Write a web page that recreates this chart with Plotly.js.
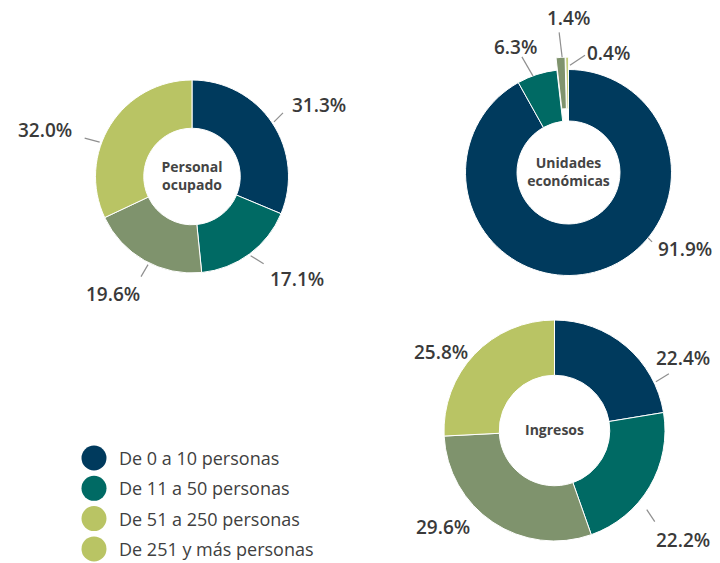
<!DOCTYPE html>
<html>
<head>
<meta charset="utf-8">
<script src="https://cdn.plot.ly/plotly-3.0.1.min.js"></script>
<style>
  html, body { margin: 0; padding: 0; background: #ffffff; }
  #chart { width: 720px; height: 563px; }
</style>
</head>
<body>
<div id="chart"></div>
<script>
// Data
const categories = ['De 0 a 10 personas', 'De 11 a 50 personas', 'De 51 a 250 personas', 'De 251 y más personas'];
const personalOcupado = [31.3, 17.1, 19.6, 32.0];
const unidadesEconomicas = [91.9, 6.3, 1.4, 0.4];
const ingresos = [22.4, 22.2, 29.6, 25.8];

const sliceColors = ['#003a5d', '#006a64', '#7f936d', '#b9c464'];
// the legend of the original shows the last two sizes with the same swatch
const legendColors = ['#003a5d', '#006a64', '#b9c464', '#b9c464'];

const W = 720, H = 563;
const FONT = '"Open Sans", "Noto Sans", sans-serif';

// layout of each donut: centre / radius in px, label placement tweaks
const donuts = [
    {
        values: personalOcupado, title: 'Personal<br>ocupado',
        cx: 192, cy: 176.5, r: 96.5, hole: 0.5, pull: [0, 0, 0, 0],
        nudge: [0, 0, -3, -12], startR: [0, 0, 0, 0],
        lineVec: [[9, -9], [13, 8], [-7, 12], [-15, -4]],
        textOff: [[36, -8], [33, 15], [-28, 17], [-40, -8]]
    },
    {
        values: unidadesEconomicas, title: 'Unidades<br>económicas',
        cx: 568.5, cy: 172.5, r: 103, hole: 0.5, pull: [0, 0, 0.12, 0.12],
        nudge: [-36, -2.4, 0.8, 1.5], startR: [-2, -2, -2, -10],
        lineVec: [[4, 4], [-11, -19], [-3, -25], [15, -10]],
        textOff: [[33, 7], [-6, -10], [9, -14], [24, -2]]
    },
    {
        values: ingresos, title: 'Ingresos',
        cx: 554.5, cy: 430.5, r: 110.5, hole: 0.5, pull: [0, 0, 0, 0],
        nudge: [24, 10, 0, 0], startR: [0, 9, 0, 0],
        lineVec: [[13, -8], [8, 12], null, null],
        textOff: [[14, -16], [28, 18], [-49, 3.5], [-31.5, -1]]
    }
];

const px = x => x / W;
const py = y => 1 - y / H;

const traces = [];
const shapes = [];
const annotations = [];

donuts.forEach(d => {
    const maxPull = Math.max(...d.pull);
    const rd = d.r * (1 + maxPull);
    traces.push({
        type: 'pie',
        values: d.values,
        labels: categories,
        sort: false,
        direction: 'clockwise',
        rotation: 0,
        hole: d.hole,
        pull: d.pull,
        textinfo: 'none',
        hoverinfo: 'label+value',
        showlegend: false,
        marker: { colors: sliceColors, line: { color: '#ffffff', width: 1 } },
        domain: { x: [px(d.cx - rd), px(d.cx + rd)], y: [py(d.cy + rd), py(d.cy - rd)] },
        title: {
            text: d.title,
            position: 'middle center',
            font: { family: FONT, size: 14, weight: 700, color: '#444444' }
        }
    });

    // percentage labels with short leader lines
    const total = d.values.reduce((a, b) => a + b, 0);
    let cum = 0;
    d.values.forEach((v, i) => {
        const mid = (cum + v / 2) / total * 360;
        cum += v;
        const ang = (mid + d.nudge[i]) * Math.PI / 180;
        const R = d.r * (1 + d.pull[i]) + 2 + d.startR[i];
        const sx = d.cx + R * Math.sin(ang);
        const sy = d.cy - R * Math.cos(ang);
        let ex = sx, ey = sy;
        if (d.lineVec[i]) {
            ex = sx + d.lineVec[i][0];
            ey = sy + d.lineVec[i][1];
            shapes.push({
                type: 'line', xref: 'paper', yref: 'paper',
                x0: px(sx), y0: py(sy), x1: px(ex), y1: py(ey),
                line: { color: '#8f8f8f', width: 1.2 }
            });
        }
        annotations.push({
            xref: 'paper', yref: 'paper',
            x: px(ex + d.textOff[i][0]), y: py(ey + d.textOff[i][1]),
            xanchor: 'center', yanchor: 'middle',
            text: v.toFixed(1) + '%',
            showarrow: false,
            font: { family: FONT, size: 19, weight: 600, color: '#3a3a3a' }
        });
    });
});

// legend drawn by hand (dots + labels)
categories.forEach((c, i) => {
    const cy = 458 + i * 30.3;
    shapes.push({
        type: 'circle', xref: 'paper', yref: 'paper',
        x0: px(94 - 12.5), x1: px(94 + 12.5), y0: py(cy + 12.5), y1: py(cy - 12.5),
        fillcolor: legendColors[i], line: { width: 0 }
    });
    annotations.push({
        xref: 'paper', yref: 'paper',
        x: px(117), y: py(cy), xanchor: 'left', yanchor: 'middle',
        text: c, showarrow: false,
        font: { family: FONT, size: 18, color: '#404040' }
    });
});

const layout = {
    width: W,
    height: H,
    margin: { t: 0, b: 0, l: 0, r: 0 },
    paper_bgcolor: '#ffffff',
    plot_bgcolor: '#ffffff',
    showlegend: false,
    shapes: shapes,
    annotations: annotations
};

Plotly.newPlot('chart', traces, layout, { displayModeBar: false, responsive: false });
</script>
</body>
</html>
